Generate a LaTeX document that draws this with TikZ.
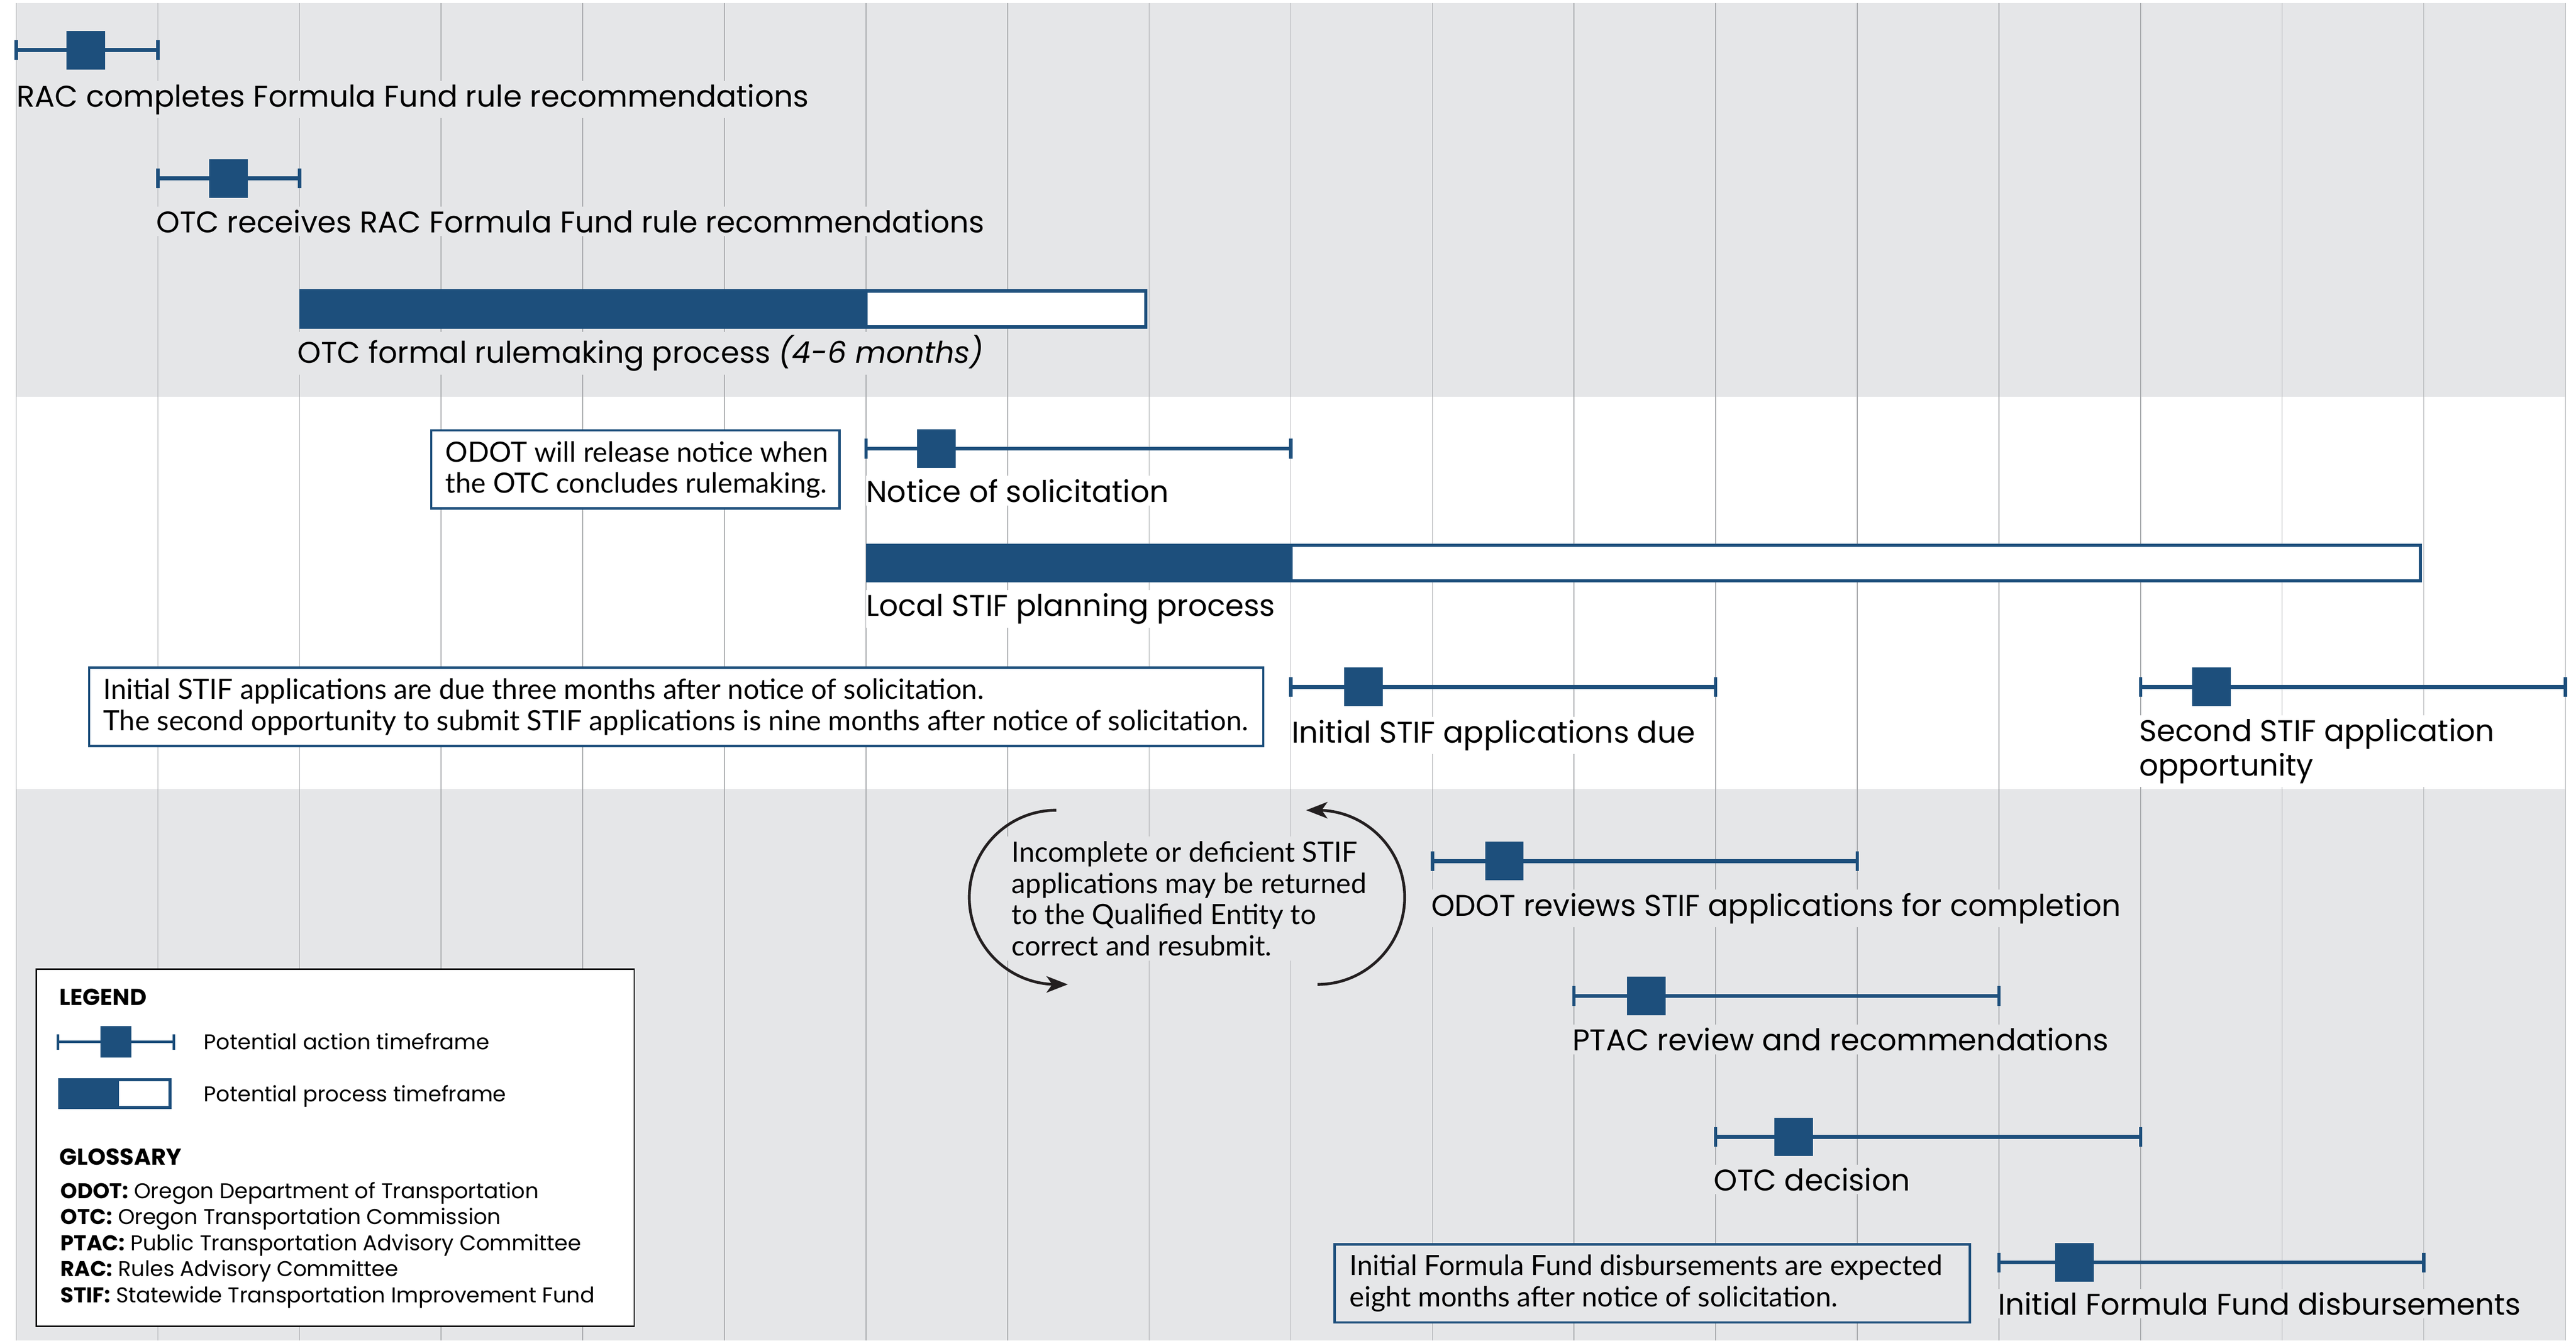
\documentclass[tikz,border=0pt]{standalone}
\usepackage{fontspec}
\setmainfont{Poppins}
\newfontfamily\notefont{Lato}
\usetikzlibrary{arrows.meta}
\definecolor{bandgray}{HTML}{E5E6E8}
\definecolor{gridgray}{HTML}{A7A9AC}
\definecolor{odotblue}{HTML}{1D4F7C}
\definecolor{arrowblack}{HTML}{231F20}
\newcommand\labfont{\fontsize{18.2}{21}\selectfont}
\newcommand\notesize{\notefont\fontsize{17}{19}\selectfont}
\newcommand\legfont{\fontsize{13}{15.8}\selectfont}
\newcommand\leghead{\fontsize{14}{16}\selectfont\bfseries}
% action whisker: name, start x, end x, y, square x
\newcommand\action[5]{%
  \coordinate (#1-s) at (#2,#4);
  \coordinate (#1-e) at (#3,#4);
  \draw[whisk] (#1-s) -- (#1-e);
  \draw[wcap] ([yshift=6pt]#1-s) -- ([yshift=-6pt]#1-s);
  \draw[wcap] ([yshift=6pt]#1-e) -- ([yshift=-6pt]#1-e);
  \node[sq] (#1-sq) at (#5,#4) {};
}
\begin{document}
\begin{tikzpicture}[x=1pt,y=-1pt,
  gridline/.style={draw=gridgray,line width=0.5pt},
  whisk/.style={draw=odotblue,line width=2.4pt},
  wcap/.style={draw=odotblue,line width=2pt},
  sq/.style={fill=odotblue,draw=none,minimum width=23.5pt,minimum height=23.5pt,inner sep=0pt},
  lab/.style={anchor=base west,inner xsep=0pt,inner ysep=2pt,font=\labfont,text=black,fill=bandgray},
  labw/.style={lab,fill=white},
  notebox/.style={draw=odotblue,line width=1.4pt,anchor=north west,inner sep=0pt},
  notetext/.style={anchor=base west,inner sep=0pt,align=left,font=\notesize},
  looparrow/.style={draw=arrowblack,line width=1.7pt,-{Stealth[length=13pt,width=10pt,inset=3.5pt]}},
  legtext/.style={anchor=base west,inner sep=0pt,font=\legfont}
]
\useasboundingbox (0,0) rectangle (1568,815.8);
\fill[white] (0,0) rectangle (1568,815.8);
% bands
\fill[bandgray] (9.9,2) rectangle (1561.6,241.5);
\fill[bandgray] (9.9,480) rectangle (1561.6,815.8);
% grid
\foreach \i in {0,...,18} \draw[gridline] ({9.9+86.2*\i},2) -- ({9.9+86.2*\i},815.8);

% ---- top band
\node[lab] (rac-l) at (10,65) {RAC completes Formula Fund rule recommendations};
\action{rac}{9.9}{96.1}{30.5}{52.3}
\node[lab] (otcr-l) at (95,141.5) {OTC receives RAC Formula Fund rule recommendations};
\action{otcr}{96.1}{182.3}{108.6}{139}
\fill[odotblue] (182.3,176) rectangle (527.1,200);
\draw[odotblue,line width=2pt,fill=white] (527.1,177) rectangle (697.5,199);
\node[lab] (otcf-l) at (181,221) {OTC formal rulemaking process \textit{(4-6 months)}};

% ---- white band
\node[notebox,fill=white,minimum width=248.6pt,minimum height=47.5pt] (note1box) at (261.7,261.1) {};
\node[notetext] (note1) at (271,300) {ODOT will release notice when\\the OTC concludes rulemaking.};
\node[labw] (nos-l) at (527,305.5) {Notice of solicitation};
\action{nos}{527.1}{785.7}{273}{570}
\fill[odotblue] (527.1,330.8) rectangle (785.7,354.5);
\draw[odotblue,line width=2pt,fill=white] (785.7,331.8) rectangle (1473.3,353.5);
\node[labw] (loc-l) at (527,375) {Local STIF planning process};
\node[notebox,fill=white,minimum width=714.8pt,minimum height=47.7pt] (note2box) at (53.5,405.6) {};
\node[notetext] (note2) at (62.6,444.5) {Initial STIF applications are due three months after notice of solicitation.\\The second opportunity to submit STIF applications is nine months after notice of solicitation.};
\node[labw] (ini-l) at (786,452) {Initial STIF applications due};
\action{ini}{785.7}{1044.3}{418}{830}
\node[labw,align=left] (sec-l) at (1302,472) {Second STIF application\\opportunity};
\action{sec}{1302.9}{1561.5}{418}{1346}

% ---- bottom band
\node[notetext,fill=bandgray,inner sep=3pt] (loop) at (612.6,581.5) {Incomplete or deficient STIF\\applications may be returned\\to the Qualified Entity to\\correct and resubmit.};
\draw[looparrow] (643,493) arc[start angle=90,end angle=270,radius=53pt] -- ++(7,0);
\draw[looparrow] (802,599) arc[start angle=-90,end angle=90,radius=53pt] -- ++(-7,0);

\node[lab] (odr-l) at (871,557.3) {ODOT reviews STIF applications for completion};
\action{odr}{871.9}{1130.5}{524}{915.7}
\node[lab] (ptac-l) at (957,639.3) {PTAC review and recommendations};
\action{ptac}{958.1}{1216.7}{606}{1002}
\node[lab] (otcd-l) at (1043,724.5) {OTC decision};
\action{otcd}{1044.3}{1302.9}{691.8}{1091.7}
\node[notebox,fill=bandgray,minimum width=386.6pt,minimum height=47.5pt] (note3box) at (811.7,756.5) {};
\node[notetext] (note3) at (821.3,795) {Initial Formula Fund disbursements are expected\\eight months after notice of solicitation.};
\node[lab] (iff-l) at (1216,800) {Initial Formula Fund disbursements};
\action{iff}{1216.7}{1475.3}{768.2}{1262.7}

% ---- legend
\node[draw=black,line width=0.8pt,fill=white,anchor=north west,inner sep=0pt,minimum width=363.9pt,minimum height=217.2pt] (legend) at (21.7,589.4) {};
\node[legtext] (leg-t) at (35.9,611.8) {\leghead LEGEND};
\coordinate (lw-s) at (35.4,634);
\coordinate (lw-e) at (105.7,634);
\draw[draw=odotblue,line width=1.6pt] (lw-s) -- (lw-e);
\draw[draw=odotblue,line width=1.6pt] ([yshift=4.7pt]lw-s) -- ([yshift=-4.7pt]lw-s);
\draw[draw=odotblue,line width=1.6pt] ([yshift=4.7pt]lw-e) -- ([yshift=-4.7pt]lw-e);
\node[fill=odotblue,inner sep=0pt,minimum width=19pt,minimum height=19pt] (lw-sq) at (70.6,634) {};
\node[legtext] (leg-a) at (123.9,638.7) {Potential action timeframe};
\fill[odotblue] (35.4,656) rectangle (71.3,675);
\draw[odotblue,line width=2pt,fill=white] (71.3,657) rectangle (103.4,674);
\node[legtext] (leg-p) at (123.9,670.4) {Potential process timeframe};
\node[legtext] (glo-t) at (35.9,708.9) {\leghead GLOSSARY};
\node[anchor=base west,inner sep=0pt,align=left,font=\legfont] (glo) at (36.7,792.5) {%
\textbf{ODOT:} Oregon Department of Transportation\\
\textbf{OTC:} Oregon Transportation Commission\\
\textbf{PTAC:} Public Transportation Advisory Committee\\
\textbf{RAC:} Rules Advisory Committee\\
\textbf{STIF:} Statewide Transportation Improvement Fund};
\end{tikzpicture}
\end{document}
